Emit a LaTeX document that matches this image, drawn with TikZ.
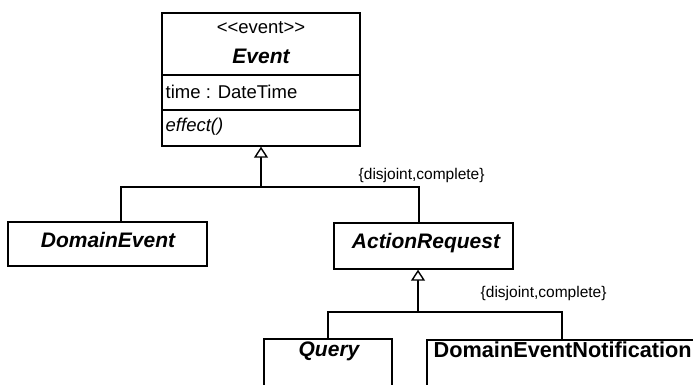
\documentclass[tikz,border=0pt]{standalone}
\usepackage{fontspec}
\setmainfont{Liberation Sans}
\usetikzlibrary{arrows.meta}
\begin{document}
\begin{tikzpicture}[x=1pt,y=-1pt,line width=1.4pt,
  box/.style={draw,line width=1.4pt,inner sep=0pt},
  nm/.style={font=\fontsize{21}{24}\selectfont\bfseries\itshape,inner sep=0pt},
  nmup/.style={font=\fontsize{21.7}{24}\selectfont\bfseries,inner sep=0pt},
  att/.style={font=\fontsize{18.5}{22}\selectfont,inner sep=0pt},
  lbl/.style={font=\fontsize{15.5}{18}\selectfont,inner sep=0pt},
  gen/.style={-{Triangle[open,length=11pt,width=14pt,fill=white]}}]
\useasboundingbox (0,0) rectangle (693,385);
\clip (0,0) rectangle (693,385);
% Event class
\node[box,minimum width=198pt,minimum height=133pt] (event) at (261,79.5) {};
\draw (event.west |- 0,75) -- (event.east |- 0,75);
\draw (event.west |- 0,110) -- (event.east |- 0,110);
\node[att] (ster) at (261,28) {<\kern0pt<event>\kern0pt>};
\node[nm] (evname) at (261,56) {Event};
\node[att,anchor=west] (attr) at (165,92) {time : DateTime};
\node[att,anchor=west,font=\fontsize{18.5}{22}\selectfont\itshape] (op) at (165,127) {effect()};
% second level
\node[box,minimum width=199pt,minimum height=44pt] (de) at (107.5,244) {};
\node[nm] (detext) at (108,240) {DomainEvent};
\node[box,minimum width=179pt,minimum height=46pt] (ar) at (423.5,246) {};
\node[nm] (artext) at (426,243) {ActionRequest};
% third level
\node[box,minimum width=128pt,minimum height=61pt] (q) at (328,369.5) {};
\node[nm] (qtext) at (329,351) {Query};
\node[box,minimum width=293pt,minimum height=60pt] (den) at (573.5,370) {};
\node[nmup,anchor=west] (dentext) at (433,350) {DomainEventNotification};
% generalization 1
\coordinate (h1) at (261,187);
\draw[gen] (h1) -- (event.south -| h1);
\draw (de.north -| 121,0) |- (h1) -| (ar.north -| 419,0);
\node[lbl,anchor=west] (c1) at (358,175) {\{disjoint,complete\}};
% generalization 2
\coordinate (h2) at (418,312);
\draw[gen] (h2) -- (ar.south -| h2);
\draw (q.north -| 328,0) |- (h2) -| (den.north -| 562,0);
\node[lbl,anchor=west] (c2) at (480,293) {\{disjoint,complete\}};
\end{tikzpicture}
\end{document}
